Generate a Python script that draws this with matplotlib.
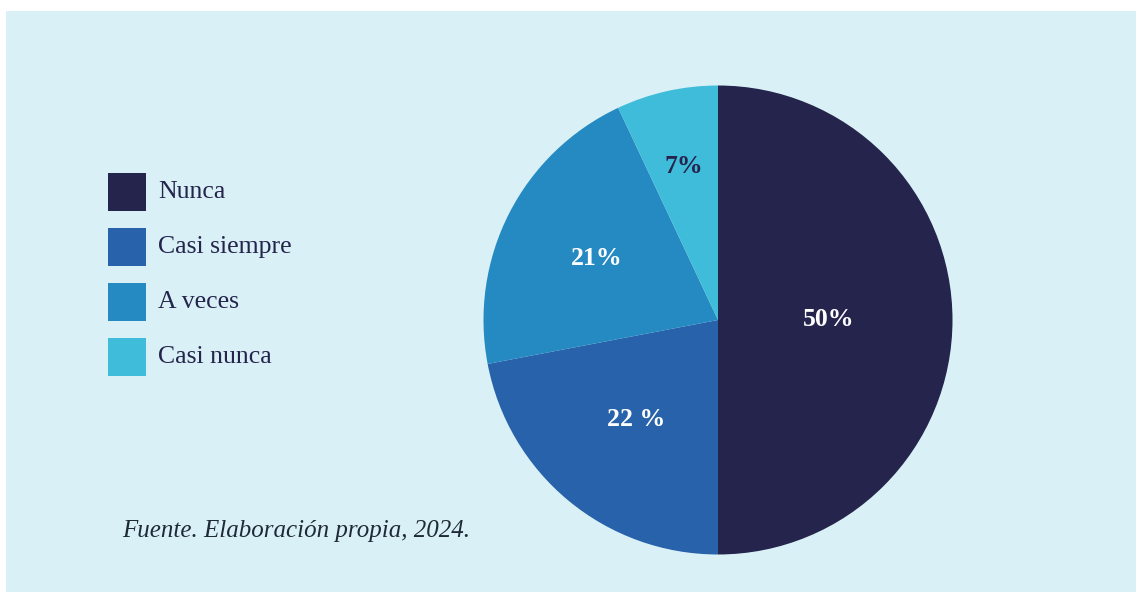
import matplotlib
matplotlib.use("Agg")
import matplotlib.pyplot as plt
from matplotlib.patches import Rectangle
import numpy as np

categories = ["Nunca", "Casi siempre", "A veces", "Casi nunca"]
values = [50, 22, 21, 7]
pct_labels = ["50%", "22 %", "21%", "7%"]
colors = ["#25244D", "#2762AA", "#2589C2", "#40BCDB"]
label_colors = ["white", "white", "white", "#25244D"]
label_radius = [0.47, 0.55, 0.58, 0.67]
source = "Fuente. Elaboración propia, 2024."

W, H = 1142, 597
fig = plt.figure(figsize=(W / 100, H / 100), dpi=100)
fig.patch.set_facecolor("white")
serif = ["Liberation Serif", "DejaVu Serif"]

# background panel
fig.add_artist(Rectangle((6 / W, 1 - 592 / H), (1136 - 6) / W, (592 - 11) / H,
                         transform=fig.transFigure, facecolor="#D9F1F6",
                         edgecolor="none", zorder=0))

# pie axes
cx, cy, r = 718, 320, 234.5
ax = fig.add_axes([(cx - r) / W, (H - cy - r) / H, 2 * r / W, 2 * r / H])
ax.set_facecolor("none")
wedges, _ = ax.pie(values, colors=colors, startangle=90, counterclock=False,
                   radius=1, wedgeprops=dict(linewidth=0))
ax.set_xlim(-1, 1)
ax.set_ylim(-1, 1)
ax.set_aspect("equal")
ax.axis("off")

for w, lab, col, rr in zip(wedges, pct_labels, label_colors, label_radius):
    ang = np.deg2rad((w.theta1 + w.theta2) / 2)
    ax.text(rr * np.cos(ang), rr * np.sin(ang), lab, ha="center", va="center",
            color=col, fontsize=18.5, fontweight="bold", family=serif)

# legend
for i, (cat, col) in enumerate(zip(categories, colors)):
    yc = 192 + 55 * i
    fig.add_artist(Rectangle((108 / W, 1 - (yc + 19) / H), 38 / W, 38 / H,
                             transform=fig.transFigure, facecolor=col,
                             edgecolor="none"))
    fig.text(158 / W, 1 - yc / H, cat, ha="left", va="center",
             fontsize=18.5, color="#25244D", family=serif)

fig.text(122 / W, 1 - 531 / H, source, ha="left", va="center",
         fontsize=18, style="italic", color="#1E2A35", family=serif)

fig.savefig("out.png", dpi=100, facecolor="white")
